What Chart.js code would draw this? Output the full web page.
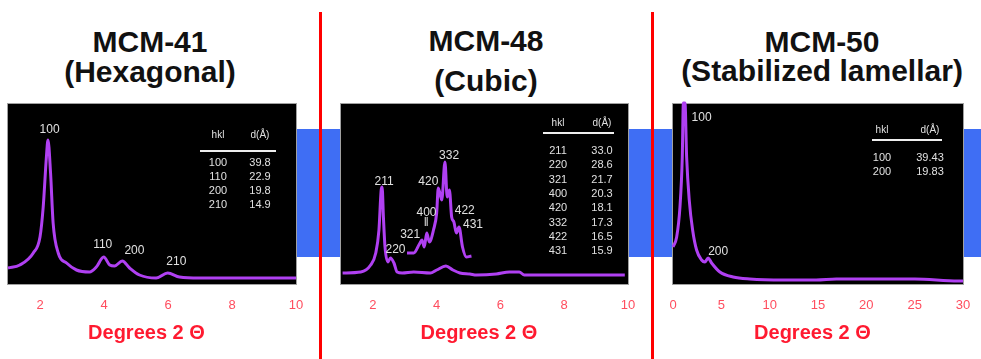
<!DOCTYPE html>
<html>
<head>
<meta charset="utf-8">
<script src="https://cdn.jsdelivr.net/npm/chart.js@4.4.1/dist/chart.umd.min.js"></script>
<style>
body{margin:0;background:#fff;width:981px;height:359px;overflow:hidden;position:relative;font-family:"Liberation Sans",Arial,sans-serif}
.t{position:absolute;width:320px;font-weight:bold;font-size:30px;color:#111;text-align:center;white-space:nowrap;line-height:30px}
.red{position:absolute;top:12px;bottom:0;width:3px;background:#f00;z-index:5}
.blue{position:absolute;top:129px;height:128px;background:#3f6ef4;z-index:0}
canvas{position:absolute;top:98px;z-index:1}
</style>
</head>
<body>
<div class="t" style="left:-10px;top:27px">MCM-41</div>
<div class="t" style="left:-10px;top:57px">(Hexagonal)</div>
<div class="t" style="left:326px;top:26px">MCM-48</div>
<div class="t" style="left:326px;top:66px">(Cubic)</div>
<div class="t" style="left:662px;top:27px">MCM-50</div>
<div class="t" style="left:662px;top:56px">(Stabilized lamellar)</div>

<div class="blue" style="left:296px;width:46px"></div>
<div class="blue" style="left:628px;width:46px"></div>
<div class="blue" style="left:962px;width:19px"></div>

<canvas id="c41" width="320" height="261" style="left:0px"></canvas>
<canvas id="c48" width="325" height="261" style="left:327px"></canvas>
<canvas id="c50" width="338" height="261" style="left:649px"></canvas>

<div class="red" style="left:319px"></div>
<div class="red" style="left:651px"></div>

<script>
// MCM-41 (hexagonal)
const mcm41Deg = [1.0, 1.37, 1.79, 2.0, 2.1, 2.2, 2.25, 2.33, 2.41, 2.57, 2.83, 3.14, 3.55, 3.76, 3.99, 4.18, 4.33, 4.57, 4.8, 5.11, 5.63, 5.99, 6.36, 6.98, 8.0, 9.0, 10.0];
const mcm41Int = [16, 19, 31, 47, 77, 127, 144, 111, 61, 31, 21, 14, 12, 17, 27, 19, 18, 23, 16, 9, 6, 11, 7, 6, 6, 6, 6];
const mcm41Ticks = [2, 4, 6, 8, 10];
const mcm41PeakText = ['100', '110', '200', '210'];
const mcm41PeakDeg = [2.3, 3.96, 4.95, 6.26];
const mcm41PeakInt = [154, 39, 33, 22];
const mcm41Hkl = ['100', '110', '200', '210'];
const mcm41D = ['39.8', '22.9', '19.8', '14.9'];

// MCM-48 (cubic): full pattern and magnified region
const mcm48Deg = [1.05, 1.62, 1.93, 2.09, 2.19, 2.26, 2.29, 2.33, 2.38, 2.47, 2.55, 2.66, 2.76, 2.92, 3.28, 3.8, 4.0, 4.29, 4.51, 4.73, 5.04, 5.25, 5.87, 6.28, 6.59, 6.75, 7.1, 8.5, 9.9];
const mcm48Int = [11, 12, 19, 31, 54, 94, 97, 67, 37, 22, 26, 21, 12, 11, 12, 11, 14, 18, 14, 11, 10, 9, 10, 12, 12, 9, 9, 9, 9];
const mcm48ZoomDeg = [3.07, 3.28, 3.46, 3.54, 3.61, 3.69, 3.77, 3.9, 4.0, 4.05, 4.16, 4.26, 4.33, 4.4, 4.47, 4.54, 4.62, 4.7, 4.81, 4.93, 5.09];
const mcm48ZoomInt = [31, 31, 40, 44, 37, 51, 42, 54, 71, 96, 84, 122, 87, 94, 67, 62, 51, 57, 37, 27, 28];
const mcm48Ticks = [2, 4, 6, 8, 10];
const mcm48PeakText = ['211', '220', '321', '400', 'ǁ', '420', '332', '422', '431'];
const mcm48PeakDeg = [2.35, 2.71, 3.17, 3.68, 3.67, 3.74, 4.39, 4.88, 5.14];
const mcm48PeakInt = [102, 34, 49, 71, 61, 102, 128, 73, 59];
const mcm48Hkl = ['211', '220', '321', '400', '420', '332', '422', '431'];
const mcm48D = ['33.0', '28.6', '21.7', '20.3', '18.1', '17.3', '16.5', '15.9'];

// MCM-50 (stabilized lamellar)
const mcm50Deg = [0.0, 0.38, 0.72, 0.96, 1.07, 1.24, 1.41, 1.68, 2.03, 2.44, 2.96, 3.3, 3.64, 3.99, 4.85, 6.22, 7.94, 11.4, 14.8, 16.9, 20, 25, 29.5, 30];
const mcm50Int = [37, 47, 77, 127, 181, 181, 127, 84, 54, 34, 24, 22, 26, 21, 12, 7, 5, 4, 4, 5, 5, 5, 3, 3];
const mcm50Ticks = [0, 5, 10, 15, 20, 25, 30];
const mcm50PeakText = ['100', '200'];
const mcm50PeakDeg = [2.96, 4.67];
const mcm50PeakInt = [166, 32];
const mcm50Hkl = ['100', '200'];
const mcm50D = ['39.43', '19.83'];

const FONT = '"Liberation Sans", Arial, sans-serif';
Chart.defaults.font.family = FONT;

// black plot box, peak labels and hkl table
function deco(peaks, tb) {
  return {
    id: 'deco',
    beforeDatasetsDraw(chart) {
      const {ctx, chartArea: a} = chart;
      ctx.save();
      ctx.fillStyle = '#000';
      ctx.fillRect(a.left, a.top, a.width, a.height);
      ctx.strokeStyle = '#a0a0a0';
      ctx.lineWidth = 1;
      ctx.strokeRect(a.left - 0.5, a.top - 0.5, a.width + 1, a.height + 1);
      ctx.restore();
    },
    afterDatasetsDraw(chart) {
      const {ctx, chartArea: a, scales: {x, y}} = chart;
      ctx.save();
      ctx.fillStyle = '#e0e0e0';
      ctx.textAlign = 'center';
      ctx.textBaseline = 'middle';
      ctx.font = '12px ' + FONT;
      peaks.text.forEach((t, i) => {
        ctx.fillText(t, x.getPixelForValue(peaks.deg[i]), y.getPixelForValue(peaks.int[i]));
      });
      ctx.font = '10px ' + FONT;
      ctx.fillText('hkl', a.right - tb.hklX, a.top + tb.head);
      ctx.fillText('d(Å)', a.right - tb.dX, a.top + tb.head);
      ctx.strokeStyle = '#eeeeee';
      ctx.lineWidth = 2;
      ctx.beginPath();
      ctx.moveTo(a.right - tb.l1, a.top + tb.line);
      ctx.lineTo(a.right - tb.l2, a.top + tb.line);
      ctx.stroke();
      ctx.font = '11px ' + FONT;
      tb.hkl.forEach((h, i) => {
        const yy = a.top + tb.row0 + i * tb.step;
        ctx.fillText(h, a.right - tb.hklX, yy);
        ctx.fillText(tb.d[i], a.right - tb.dX, yy);
      });
      ctx.restore();
    }
  };
}

function panel(id, c) {
  new Chart(document.getElementById(id), {
    type: 'line',
    data: {
      datasets: c.series.map(s => ({
        data: s[0].map((d, i) => ({x: d, y: s[1][i]})),
        borderColor: '#b040f2',
        borderWidth: 3,
        pointRadius: 0,
        cubicInterpolationMode: 'monotone',
        clip: false
      }))
    },
    options: {
      responsive: false,
      animation: false,
      layout: {padding: {left: c.padL, right: 24, top: 6, bottom: 0}},
      plugins: {legend: {display: false}, tooltip: {enabled: false}},
      scales: {
        x: {
          type: 'linear',
          min: c.min,
          max: c.max,
          afterBuildTicks: s => { s.ticks = c.ticks.map(v => ({value: v})); },
          afterFit: s => { s.height = 75; },
          grid: {display: false, drawTicks: false},
          border: {display: false},
          ticks: {color: '#ff4d5e', font: {size: 13}, padding: 14, autoSkip: false, maxRotation: 0},
          // trailing spaces nudge the centred title a little left, as in the original
          title: {display: true, text: 'Degrees 2 Θ\u00a0\u00a0', color: '#ff1a30', font: {size: 20, weight: 'bold'}, padding: {top: 0, bottom: 14}}
        },
        y: {display: false, min: 0, max: 180}
      }
    },
    plugins: [deco(c.peaks, c.table)]
  });
}

panel('c41', {
  series: [[mcm41Deg, mcm41Int]],
  min: 1, max: 10, ticks: mcm41Ticks, padL: 8,
  peaks: {text: mcm41PeakText, deg: mcm41PeakDeg, int: mcm41PeakInt},
  table: {hkl: mcm41Hkl, d: mcm41D, hklX: 78, dX: 36, head: 31, line: 47, l1: 96, l2: 20, row0: 59, step: 14}
});
panel('c48', {
  series: [[mcm48Deg, mcm48Int], [mcm48ZoomDeg, mcm48ZoomInt]],
  min: 1, max: 10, ticks: mcm48Ticks, padL: 14,
  peaks: {text: mcm48PeakText, deg: mcm48PeakDeg, int: mcm48PeakInt},
  table: {hkl: mcm48Hkl, d: mcm48D, hklX: 70, dX: 26, head: 19, line: 29, l1: 85, l2: 14, row0: 47, step: 14.3}
});
panel('c50', {
  series: [[mcm50Deg, mcm50Int]],
  min: 0, max: 30, ticks: mcm50Ticks, padL: 24,
  peaks: {text: mcm50PeakText, deg: mcm50PeakDeg, int: mcm50PeakInt},
  table: {hkl: mcm50Hkl, d: mcm50D, hklX: 81, dX: 33, head: 26, line: 36, l1: 91, l2: 21, row0: 54, step: 14}
});
</script>
</body>
</html>
